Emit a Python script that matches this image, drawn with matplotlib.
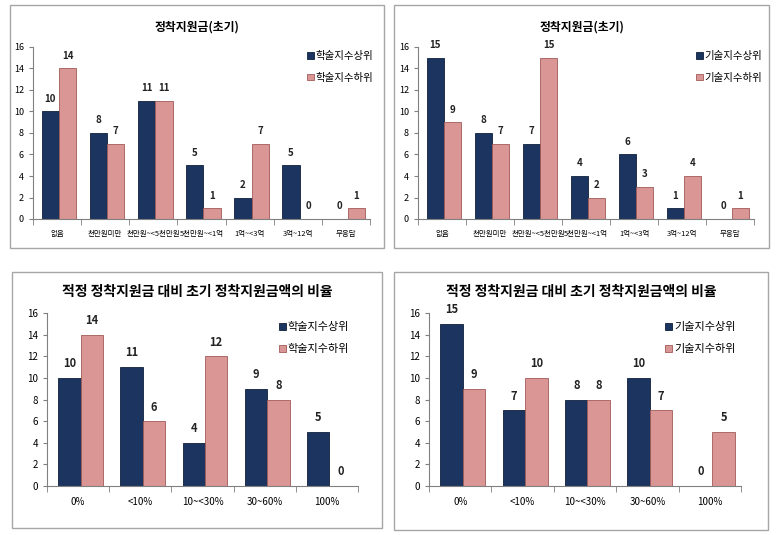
import matplotlib
matplotlib.use("Agg")
import matplotlib.pyplot as plt
from matplotlib.patches import Rectangle
import numpy as np

plt.rcParams['font.family'] = ['Noto Sans CJK KR', 'DejaVu Sans']

# data
amount_cats = ['없음', '천만원미만', '천만원~<5천만원', '5천만원~<1억', '1억~<3억', '3억~12억', '무응답']
ratio_cats = ['0%', '<10%', '10~<30%', '30~60%', '100%']

acad_amount_hi = [10, 8, 11, 5, 2, 5, 0]
acad_amount_lo = [14, 7, 11, 1, 7, 0, 1]
tech_amount_hi = [15, 8, 7, 4, 6, 1, 0]
tech_amount_lo = [9, 7, 15, 2, 3, 4, 1]

acad_ratio_hi = [10, 11, 4, 9, 5]
acad_ratio_lo = [14, 6, 12, 8, 0]
tech_ratio_hi = [15, 7, 8, 10, 0]
tech_ratio_lo = [9, 10, 8, 7, 5]

NAVY = '#1B3560'
PINK = '#D99694'
W, H = 776, 535

fig = plt.figure(figsize=(W / 100, H / 100), dpi=100)


def px_rect(x0, y0, x1, y1):
    return [x0 / W, 1 - y1 / H, (x1 - x0) / W, (y1 - y0) / H]


def panel(box, axrect, title, title_y, cats, hi, lo, names, leg_xy, fs_cat, fs_tick, fs_val, fs_title):
    bx = px_rect(*box)
    fig.patches.append(Rectangle((bx[0], bx[1]), bx[2], bx[3], transform=fig.transFigure,
                                 fill=False, edgecolor='#A6A6A6', linewidth=1.0))
    ax = fig.add_axes(px_rect(*axrect))
    x = np.arange(len(cats))
    w = 0.36
    b1 = ax.bar(x - w / 2 + 0.04, hi, w, color=NAVY, edgecolor='#0F1F3A', linewidth=0.6, label=names[0])
    b2 = ax.bar(x + w / 2 + 0.04, lo, w, color=PINK, edgecolor='#A05A58', linewidth=0.6, label=names[1])
    for bars, vals in ((b1, hi), (b2, lo)):
        for b, v in zip(bars, vals):
            ax.text(b.get_x() + b.get_width() / 2, v + 0.7, str(v), ha='center', va='bottom',
                    fontsize=fs_val, fontweight='bold', color='#222222')
    ax.set_xlim(-0.5, len(cats) - 0.5)
    ax.set_ylim(0, 16)
    ax.set_yticks(range(0, 17, 2))
    ax.set_xticks(x)
    ax.set_xticklabels(cats)
    ax.set_xticks(np.arange(-0.5, len(cats), 1), minor=True)
    ax.tick_params(axis='x', which='major', length=0, labelsize=fs_cat, pad=8)
    ax.tick_params(axis='x', which='minor', length=4, color='#808080')
    ax.tick_params(axis='y', length=3, color='#808080', labelsize=fs_tick)
    for s in ('top', 'right'):
        ax.spines[s].set_visible(False)
    for s in ('left', 'bottom'):
        ax.spines[s].set_color('#808080')
    ax.legend(loc='upper left', bbox_to_anchor=(leg_xy[0] / W, 1 - leg_xy[1] / H),
              bbox_transform=fig.transFigure, frameon=False, handlelength=0.6, handleheight=0.6,
              handletextpad=0.2, labelspacing=1.1, fontsize=fs_tick + 1)
    cx = (box[0] + box[2]) / 2 / W
    fig.text(cx, 1 - title_y / H, title, ha='center', va='center', fontsize=fs_title, fontweight='bold')
    return ax


panel((10, 5, 384, 248), (33, 47, 370, 219), '정착지원금(초기)', 27, amount_cats,
      acad_amount_hi, acad_amount_lo, ['학술지수상위', '학술지수하위'], (298, 42), 5.4, 6.5, 7, 8.5)
panel((394, 5, 769, 248), (418, 47, 754, 219), '정착지원금(초기)', 27, amount_cats,
      tech_amount_hi, tech_amount_lo, ['기술지수상위', '기술지수하위'], (687, 42), 5.4, 6.5, 7, 8.5)
panel((12, 272, 382, 528), (47, 313, 358, 486), '적정 정착지원금 대비 초기 정착지원금액의 비율', 292,
      ratio_cats, acad_ratio_hi, acad_ratio_lo, ['학술지수상위', '학술지수하위'], (269, 312), 7, 7, 8, 10)
panel((394, 272, 768, 530), (429, 313, 741, 486), '적정 정착지원금 대비 초기 정착지원금액의 비율', 292,
      ratio_cats, tech_ratio_hi, tech_ratio_lo, ['기술지수상위', '기술지수하위'], (655, 312), 7, 7, 8, 10)

fig.savefig('out.png', dpi=100)
